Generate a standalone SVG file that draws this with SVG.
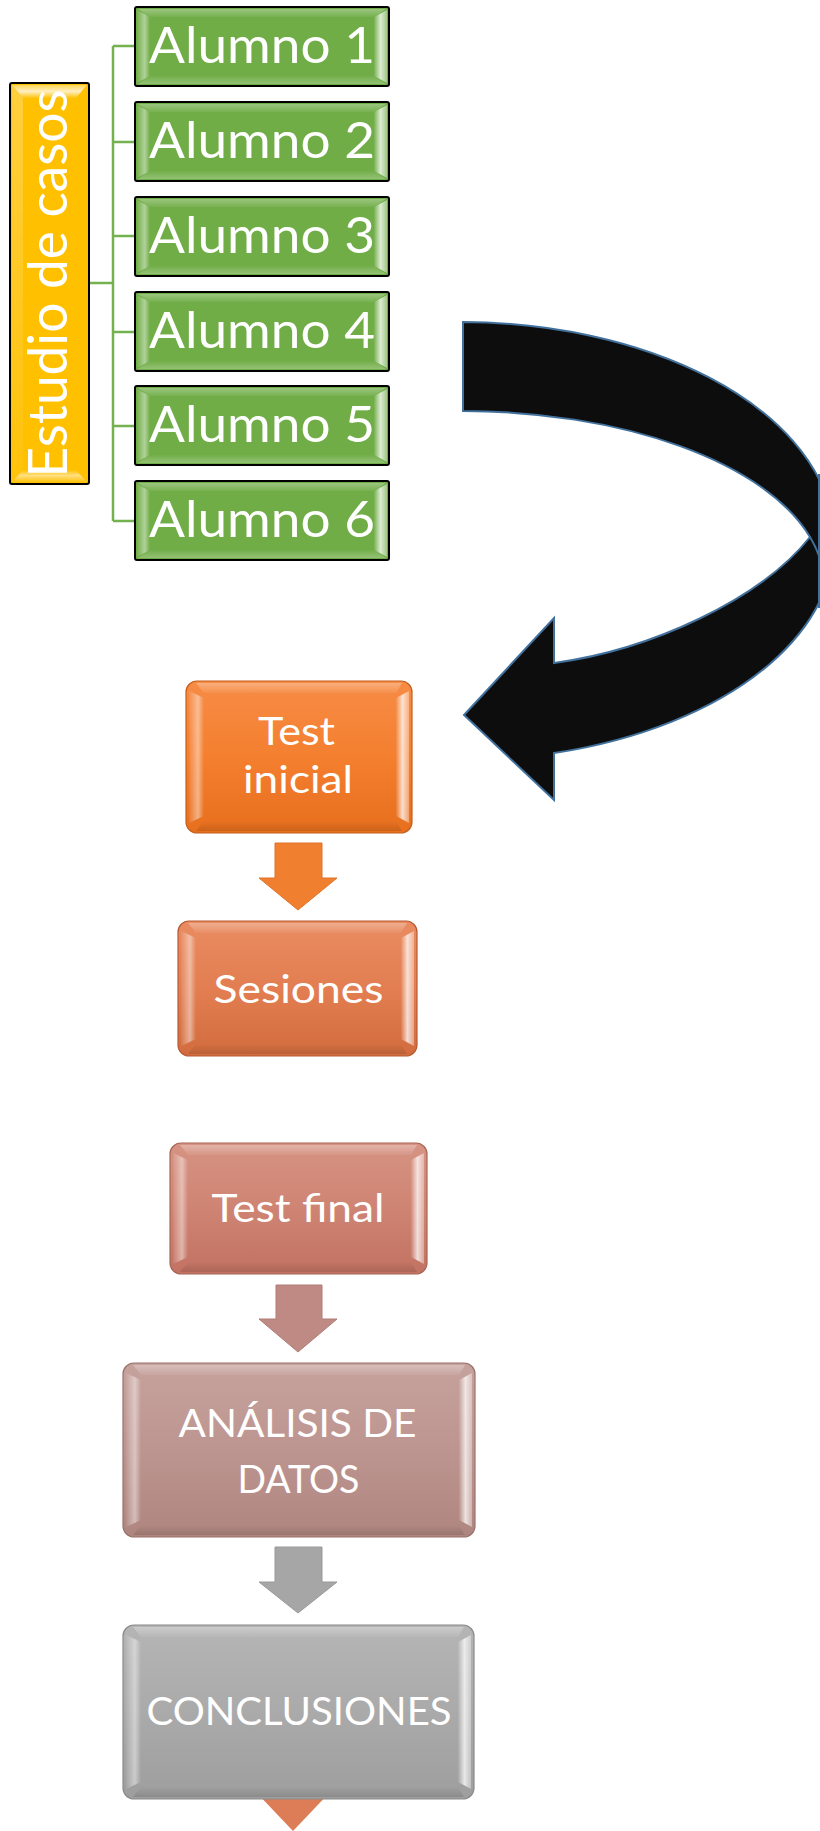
<svg xmlns="http://www.w3.org/2000/svg" xmlns:xlink="http://www.w3.org/1999/xlink" width="820" height="1831" viewBox="0 0 820 1831">
<style>
.t{font-family:Lato,"Open Sans","Liberation Sans",sans-serif;fill:#fff;text-anchor:middle}
.al{font-size:50px}
.bx{font-size:39px}
.ln{fill:none;stroke:#76B150;stroke-width:2.5}
.bl{fill:url(#bvL)}.br{fill:url(#bvR)}.bt{fill:url(#bvT)}.bb{fill:url(#bvB)}
</style>
<defs>
<linearGradient id="bvL" x1="0" y1="0" x2="1" y2="0"><stop offset="0" stop-color="#fff" stop-opacity="0.05"/><stop offset="0.6" stop-color="#fff" stop-opacity="0.45"/><stop offset="1" stop-color="#fff" stop-opacity="0"/></linearGradient>
<linearGradient id="bvR" x1="0" y1="0" x2="1" y2="0"><stop offset="0" stop-color="#fff" stop-opacity="0.05"/><stop offset="0.5" stop-color="#fff" stop-opacity="0.75"/><stop offset="1" stop-color="#fff" stop-opacity="0.35"/></linearGradient>
<linearGradient id="bvT" x1="0" y1="0" x2="0" y2="1"><stop offset="0" stop-color="#fff" stop-opacity="0.3"/><stop offset="1" stop-color="#fff" stop-opacity="0.05"/></linearGradient>
<linearGradient id="bvB" x1="0" y1="0" x2="0" y2="1"><stop offset="0" stop-color="#000" stop-opacity="0"/><stop offset="1" stop-color="#000" stop-opacity="0.12"/></linearGradient>
<linearGradient id="bvGB" x1="0" y1="0" x2="0" y2="1"><stop offset="0" stop-color="#fff" stop-opacity="0.02"/><stop offset="1" stop-color="#fff" stop-opacity="0.25"/></linearGradient>
<linearGradient id="bvRt" x1="0" y1="1" x2="0" y2="0"><stop offset="0" stop-color="#fff" stop-opacity="0.05"/><stop offset="0.5" stop-color="#fff" stop-opacity="0.75"/><stop offset="1" stop-color="#fff" stop-opacity="0.35"/></linearGradient>
<linearGradient id="bvLb" x1="0" y1="1" x2="0" y2="0"><stop offset="0" stop-color="#fff" stop-opacity="0.05"/><stop offset="0.55" stop-color="#fff" stop-opacity="0.5"/><stop offset="1" stop-color="#fff" stop-opacity="0"/></linearGradient>
<linearGradient id="f1" x1="0" y1="0" x2="0" y2="1"><stop offset="0" stop-color="#F78C46"/><stop offset="0.5" stop-color="#F47F2F"/><stop offset="1" stop-color="#E76F1E"/></linearGradient>
<linearGradient id="f2" x1="0" y1="0" x2="0" y2="1"><stop offset="0" stop-color="#E98B61"/><stop offset="0.5" stop-color="#E27E51"/><stop offset="1" stop-color="#D26C3E"/></linearGradient>
<linearGradient id="f3" x1="0" y1="0" x2="0" y2="1"><stop offset="0" stop-color="#D69383"/><stop offset="0.5" stop-color="#CF8473"/><stop offset="1" stop-color="#C27262"/></linearGradient>
<linearGradient id="f4" x1="0" y1="0" x2="0" y2="1"><stop offset="0" stop-color="#C6A29D"/><stop offset="0.5" stop-color="#BD9590"/><stop offset="1" stop-color="#AF857F"/></linearGradient>
<linearGradient id="f5" x1="0" y1="0" x2="0" y2="1"><stop offset="0" stop-color="#B5B5B5"/><stop offset="0.5" stop-color="#AAAAAA"/><stop offset="1" stop-color="#9E9E9E"/></linearGradient>
<g id="gbox">
<rect x="0" y="0" width="254" height="79" rx="2" fill="#70AD47" stroke="#000" stroke-width="2"/>
<polygon class="bl" points="2,3 15,10 15,69 2,76"/>
<polygon class="br" points="252,3 239,10 239,69 252,76"/>
<polygon class="bt" points="3,2 251,2 239,10 15,10"/>
<polygon fill="url(#bvGB)" points="3,77 251,77 239,69 15,69"/>
</g>
</defs>
<rect width="820" height="1831" fill="#fff"/>

<g id="connectors">
<path class="ln" d="M89,283 H113" stroke-width="3.5"/>
<path class="ln" d="M113,46 V521"/>
<path class="ln" d="M113,46 H135 M113,142 H135 M113,236 H135 M113,332 H135 M113,426 H135 M113,521 H135"/>
<g id="curved-arrow">
<path d="M463,322 A374,219 0 0 1 554,753 L554,800 L464,715 L554,618 L554,663 C650,650 760,600 810,537 A362,174 0 0 0 463,411 Z" fill="#0D0D0D" stroke="#41719C" stroke-width="2" stroke-linejoin="miter"/>
<path d="M810,537 A362,174 0 0 1 824,590" fill="none" stroke="#41719C" stroke-width="2"/>
<path d="M819,474 V608" fill="none" stroke="#41719C" stroke-width="2"/>
</g>
<polygon id="arrow-1" points="275,843 322,843 322,878 337,878 298,910 259,878 275,878" fill="#F0802F" stroke="#E0732A" stroke-width="1"/>
<polygon id="arrow-2" points="276,1285 322,1285 322,1319 337,1319 298,1352 259,1319 276,1319" fill="#C08A84" stroke="#B07C76" stroke-width="1"/>
<polygon id="arrow-3" points="275,1547 322,1547 322,1582 337,1582 298,1613 259,1582 275,1582" fill="#A6A6A6" stroke="#999" stroke-width="1"/>
<polygon id="arrow-4" points="254,1790 332,1790 293,1831" fill="#DD7D57"/>
</g>

<g id="estudio">
<rect x="10" y="83" width="79" height="401" rx="2" fill="#FFC000" stroke="#000" stroke-width="2"/>
<polygon fill="url(#bvRt)" points="12,85 87,85 76,98 23,98"/>
<polygon fill="url(#bvLb)" points="12,482 87,482 76,470 23,470"/>
<polygon fill="url(#bvT)" points="12,85 23,98 23,470 12,482" opacity="0.8"/>
<text class="t" font-size="54" transform="translate(67,283.5) rotate(-90)" textLength="388" lengthAdjust="spacingAndGlyphs">Estudio de casos</text>
</g>

<g id="alumno1"><use xlink:href="#gbox" x="135" y="7"/><text class="t al" x="262" y="63" textLength="226" lengthAdjust="spacingAndGlyphs">Alumno 1</text></g>
<g id="alumno2"><use xlink:href="#gbox" x="135" y="102"/><text class="t al" x="262" y="158" textLength="226" lengthAdjust="spacingAndGlyphs">Alumno 2</text></g>
<g id="alumno3"><use xlink:href="#gbox" x="135" y="197"/><text class="t al" x="262" y="253" textLength="226" lengthAdjust="spacingAndGlyphs">Alumno 3</text></g>
<g id="alumno4"><use xlink:href="#gbox" x="135" y="292"/><text class="t al" x="262" y="348" textLength="226" lengthAdjust="spacingAndGlyphs">Alumno 4</text></g>
<g id="alumno5"><use xlink:href="#gbox" x="135" y="386"/><text class="t al" x="262" y="442" textLength="226" lengthAdjust="spacingAndGlyphs">Alumno 5</text></g>
<g id="alumno6"><use xlink:href="#gbox" x="135" y="481"/><text class="t al" x="262" y="537" textLength="226" lengthAdjust="spacingAndGlyphs">Alumno 6</text></g>

<g id="test-inicial">
<rect x="186" y="681" width="226" height="152" rx="11" fill="url(#f1)" stroke="#C45F1C" stroke-width="1.2"/>
<polygon class="bl" points="189,691 204,698 204,816 189,823"/>
<polygon class="br" points="409,691 396,698 396,816 409,823"/>
<polygon class="bt" points="196,683 402,683 396,693 204,693"/>
<polygon class="bb" points="196,831 402,831 396,821 204,821"/>
<text class="t" font-size="39.5"><tspan x="296.5" y="745" textLength="77" lengthAdjust="spacingAndGlyphs">Test</tspan><tspan x="298" y="793" textLength="110" lengthAdjust="spacingAndGlyphs">inicial</tspan></text>
</g>

<g id="sesiones">
<rect x="178" y="921" width="239" height="135" rx="11" fill="url(#f2)" stroke="#B85A33" stroke-width="1.2"/>
<polygon class="bl" points="181,931 196,938 196,1039 181,1046"/>
<polygon class="br" points="414,931 401,938 401,1039 414,1046"/>
<polygon class="bt" points="188,923 407,923 401,933 196,933"/>
<polygon class="bb" points="188,1054 407,1054 401,1044 196,1044"/>
<text class="t bx" x="298.5" y="1003" textLength="170" lengthAdjust="spacingAndGlyphs">Sesiones</text>
</g>

<g id="test-final">
<rect x="170" y="1143" width="257" height="131" rx="11" fill="url(#f3)" stroke="#A86556" stroke-width="1.2"/>
<polygon class="bl" points="173,1153 188,1160 188,1257 173,1264"/>
<polygon class="br" points="424,1153 411,1160 411,1257 424,1264"/>
<polygon class="bt" points="180,1145 417,1145 411,1155 188,1155"/>
<polygon class="bb" points="180,1272 417,1272 411,1262 188,1262"/>
<text class="t bx" x="298" y="1222" textLength="173" lengthAdjust="spacingAndGlyphs">Test final</text>
</g>

<g id="analisis">
<rect x="123" y="1363" width="352" height="174" rx="11" fill="url(#f4)" stroke="#97736E" stroke-width="1.2"/>
<polygon class="bl" points="126,1373 141,1380 141,1520 126,1527"/>
<polygon class="br" points="472,1373 459,1380 459,1520 472,1527"/>
<polygon class="bt" points="133,1365 465,1365 459,1375 141,1375"/>
<polygon class="bb" points="133,1535 465,1535 459,1525 141,1525"/>
<text class="t bx"><tspan x="297.5" y="1437" textLength="238" lengthAdjust="spacingAndGlyphs">ANÁLISIS DE</tspan><tspan x="298.5" y="1493" textLength="122" lengthAdjust="spacingAndGlyphs">DATOS</tspan></text>
</g>

<g id="conclusiones">
<rect x="123" y="1625" width="351" height="174" rx="11" fill="url(#f5)" stroke="#8A8A8A" stroke-width="1.2"/>
<polygon class="bl" points="126,1635 141,1642 141,1782 126,1789"/>
<polygon class="br" points="471,1635 458,1642 458,1782 471,1789"/>
<polygon class="bt" points="133,1627 464,1627 458,1637 141,1637"/>
<polygon class="bb" points="133,1797 464,1797 458,1787 141,1787"/>
<text class="t bx" x="299" y="1725" textLength="305" lengthAdjust="spacingAndGlyphs">CONCLUSIONES</text>
</g>
</svg>
